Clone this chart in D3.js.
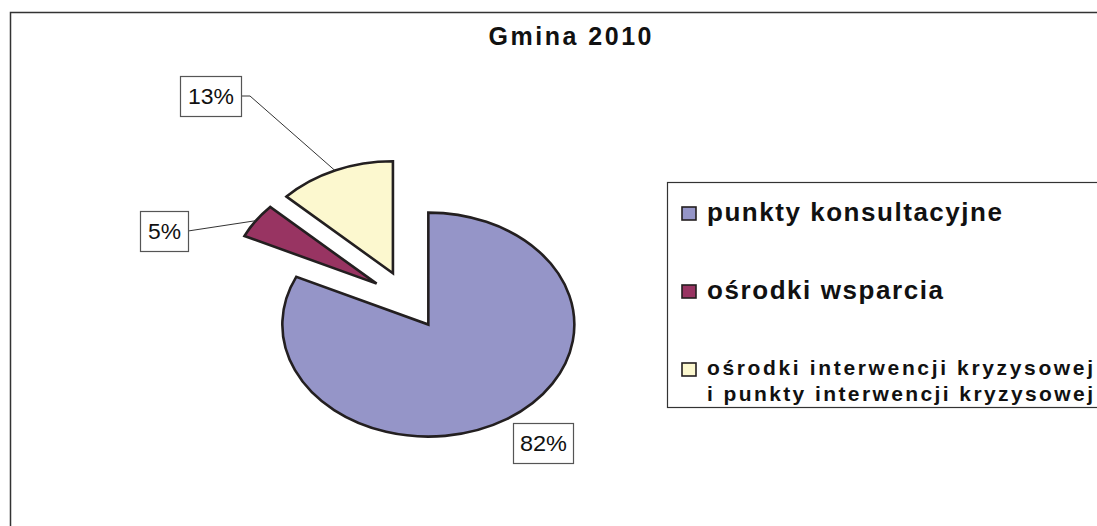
<!DOCTYPE html>
<html>
<head>
<meta charset="utf-8">
<script src="https://cdn.jsdelivr.net/npm/d3@7/dist/d3.min.js"></script>
<style>
  html, body { margin: 0; padding: 0; background: #fff; overflow: hidden; }
  svg { display: block; }
  text { font-family: "Liberation Sans", Arial, sans-serif; }
</style>
</head>
<body>
<svg id="chart" width="1097" height="526"></svg>
<script>
// ---- data ----
const title = "Gmina 2010";
const categories = ["punkty konsultacyjne", "ośrodki wsparcia", "ośrodki interwencji kryzysowej i punkty interwencji kryzysowej"];
const legendLines = [["punkty konsultacyjne"], ["ośrodki wsparcia"], ["ośrodki interwencji kryzysowej", "i punkty interwencji kryzysowej"]];
const values = [82, 5, 13];
const valueLabels = ["82%", "5%", "13%"];
const colors = ["#9595c8", "#983462", "#fcf8cf"];

// ---- layout ----
const W = 1097, H = 526;
const cx = 408, cy = 300, rx = 146, ry = 112, explode = 0.26;
const svg = d3.select("#chart");

// outer frame (extends beyond window on right / bottom)
svg.append("rect").attr("x", 10.5).attr("y", 12.5).attr("width", W + 20).attr("height", H + 20)
  .attr("fill", "#fff").attr("stroke", "#333").attr("stroke-width", 1.5);

// title
svg.append("text").attr("x", 570).attr("y", 45).attr("text-anchor", "middle")
  .attr("font-size", 25).attr("font-weight", "bold").attr("fill", "#111")
  .attr("textLength", 163).attr("lengthAdjust", "spacing").text(title);

// pie
const pie = d3.pie().sort(null).value(d => d).startAngle(0).endAngle(2 * Math.PI);
const arcs = pie(values);
const arc = d3.arc().innerRadius(0).outerRadius(rx);
const sy = ry / rx;
const g = svg.append("g").attr("transform", `translate(${cx},${cy}) scale(1,${sy})`);

function offset(d) {
  const mid = (d.startAngle + d.endAngle) / 2;
  return [explode * rx * Math.sin(mid), -explode * rx * Math.cos(mid)];
}
g.selectAll("path.slice").data(arcs).join("path")
  .attr("class", "slice")
  .attr("d", arc)
  .attr("transform", d => { const o = offset(d); return `translate(${o[0]},${o[1]})`; })
  .attr("fill", (d, i) => colors[i])
  .attr("stroke", "#231f20").attr("stroke-width", 2.6)
  .attr("stroke-linejoin", "miter")
  .attr("vector-effect", "non-scaling-stroke");

// point on exploded slice arc at its mid angle (screen coords)
function edgePoint(d) {
  const mid = (d.startAngle + d.endAngle) / 2;
  const o = offset(d);
  return [cx + o[0] + rx * Math.sin(mid), cy + sy * (o[1] - rx * Math.cos(mid))];
}

// data labels
const labelBoxes = [
  { x: 513, y: 423, w: 60, h: 40, tl: 47, leader: false },
  { x: 140, y: 211, w: 48, h: 40, tl: 33, leader: "straight" },
  { x: 180, y: 76, w: 61, h: 40, tl: 46, leader: "elbow" }
];
arcs.forEach((d, i) => {
  const b = labelBoxes[i];
  if (b.leader) {
    const p = edgePoint(d);
    const sx = b.x + b.w, syy = b.y + b.h / 2;
    let pts;
    if (b.leader === "elbow") pts = [[sx, syy], [sx + 9, syy], p];
    else pts = [[sx, syy], p];
    svg.append("path").attr("d", d3.line()(pts))
      .attr("fill", "none").attr("stroke", "#333").attr("stroke-width", 1);
  }
  svg.append("rect").attr("x", b.x + 0.5).attr("y", b.y + 0.5).attr("width", b.w).attr("height", b.h)
    .attr("fill", "#fff").attr("stroke", "#555").attr("stroke-width", 1.2);
  svg.append("text").attr("x", b.x + b.w / 2 + 0.5).attr("y", b.y + b.h / 2 + 7.5)
    .attr("text-anchor", "middle").attr("font-size", 22).attr("fill", "#111")
    .attr("textLength", b.tl).attr("lengthAdjust", "spacingAndGlyphs")
    .text(valueLabels[i]);
});

// legend
svg.append("rect").attr("x", 667.5).attr("y", 182.5).attr("width", 500).attr("height", 225)
  .attr("fill", "#fff").attr("stroke", "#333").attr("stroke-width", 1.2);
const legendRows = [
  { sq: 207, base: [221], size: 26, len: [295] },
  { sq: 285, base: [299], size: 26, len: [236] },
  { sq: 363, base: [375, 401], size: 21, len: [386, 386] }
];
legendRows.forEach((r, i) => {
  svg.append("rect").attr("x", 682).attr("y", r.sq).attr("width", 14).attr("height", 13)
    .attr("fill", colors[i]).attr("stroke", "#231f20").attr("stroke-width", 1.6);
  legendLines[i].forEach((t, j) => {
    svg.append("text").attr("x", 707).attr("y", r.base[j])
      .attr("font-size", r.size).attr("font-weight", "bold").attr("fill", "#111")
      .attr("textLength", r.len[j]).attr("lengthAdjust", "spacing").text(t);
  });
});
</script>
</body>
</html>
